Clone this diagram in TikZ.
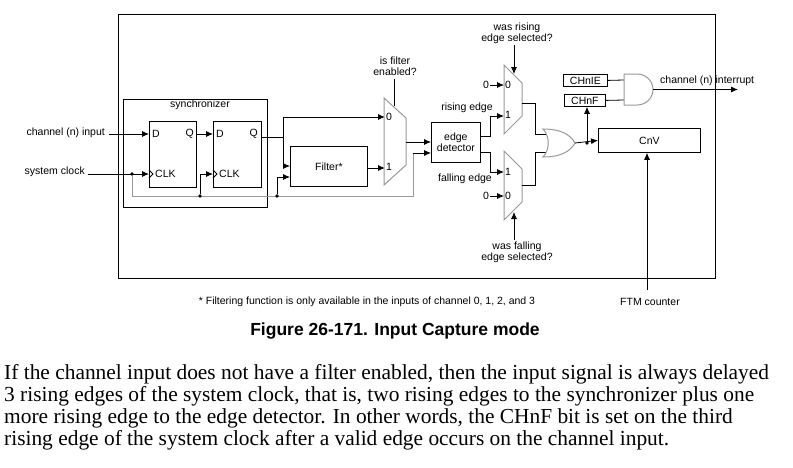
\documentclass[tikz,border=0pt]{standalone}
\usepackage{fontspec}
\setmainfont{Liberation Sans}
\newfontfamily\bodyserif{Liberation Serif}
\usetikzlibrary{arrows.meta}
\begin{document}
\begin{tikzpicture}[x=1pt,y=-1pt,
  lbl/.style={font=\fontsize{10.5}{11}\selectfont, inner sep=0pt},
  box/.style={draw, line width=0.8pt, inner sep=0pt, font=\fontsize{10.5}{11}\selectfont},
  ar/.style={-{Latex[length=7pt,width=6pt]}, line width=0.8pt},
  ln/.style={line width=0.8pt},
  gr/.style={draw=gray!80, line width=1pt},
  dot/.style={circle, fill, inner sep=1.3pt}]
\useasboundingbox (0,0) rectangle (793,467);
% outer
\draw[ln] (118,14) rectangle (715,278);
% synchronizer
\node[box, minimum width=144pt, minimum height=108pt, anchor=north west] (sync) at (123,99) {};
\node[lbl] (synct) at (200,105) {synchronizer};
\node[box, minimum width=47pt, minimum height=66pt, anchor=north west] (ff1) at (149,121) {};
\node[box, minimum width=48pt, minimum height=66pt, anchor=north west] (ff2) at (213,121) {};
\foreach \f/\x in {ff1/149, ff2/213}{
  \node[lbl, anchor=west] at (\x+3,134) {D};
  \node[lbl, anchor=east] at (\x+45,134) {Q};
  \node[lbl, anchor=west] at (\x+6,174) {CLK};
  \draw[ln] (\x,170) -- (\x+4,174) -- (\x,178);
}
\node[lbl, anchor=east] (chin) at (105,133) {channel (n) input};
\node[lbl, anchor=east] (sclk) at (85,172) {system clock};
\coordinate (ffd1) at (149,134);
\coordinate (ffc1) at (149,174);
\draw[ar] (109,134) -- (ffd1);
\draw[ar] (88,174) -- (ffc1);
\node[dot] (d1) at (132,174) {};
\draw[ar] (196,134) -- (213,134);
% gray clock bus
\draw[gr] (d1) -- (132,196) -- (413,196) -- (413,153);
\draw[ar] (413,153) -- (431,153);
\node[dot] (d2) at (200,196) {};
\node[dot] (d3) at (277,196) {};
\draw[ar] (d2) -- (200,174) -- (213,174);
\draw[ar] (d3) -- (277,177) -- (290,177);
% Q2 to mux and filter
\node[box, minimum width=77pt, minimum height=40pt, anchor=north west] (filt) at (290,146) {Filter*};
\draw[ln] (261,137) -- (283,137);
\draw[ar] (283,137) -- (283,117) -- (385,117);
\draw[ar] (283,137) -- (283,166) -- (290,166);
\draw[ar] (filt.east |- 0,168) -- (385,168);
% mux1
\draw[gr, fill=white] (384,98) -- (406,118) -- (406,165) -- (384,185) -- cycle;
\node[lbl, anchor=west] at (386,117) {0};
\node[lbl, anchor=west] at (386,167) {1};
\node[lbl, align=center] (fen) at (395,66) {is filter\\enabled?};
\draw[ln] (394,79) -- (394,106);
% edge detector
\node[box, minimum width=49pt, minimum height=40pt, anchor=north west, align=center] (ed) at (431,122) {edge\\detector};
\draw[ar] (406,142) -- (431,142);
\draw[ar] (480,136) -- (490,136) -- (490,116) -- (504,116);
\draw[ar] (480,152) -- (490,152) -- (490,172) -- (504,172);
\node[lbl] at (467,108) {rising edge};
\node[lbl] at (465,179) {falling edge};
% mux2
\draw[gr, fill=white] (504,65) -- (522,83) -- (522,116) -- (504,134) -- cycle;
\node[lbl, anchor=west] at (505,85) {0};
\node[lbl, anchor=west] at (505,115) {1};
\node[lbl] at (486,85) {0};
\draw[ar] (490,85) -- (504,85);
\node[lbl, align=center] (wrs) at (517,33) {was rising\\edge selected?};
\draw[ar] (514,45) -- (514,74);
% mux3
\draw[gr, fill=white] (504,151) -- (522,169) -- (522,202) -- (504,220) -- cycle;
\node[lbl, anchor=west] at (505,172) {1};
\node[lbl, anchor=west] at (505,196) {0};
\node[lbl] at (486,196) {0};
\draw[ar] (490,196) -- (504,196);
\node[lbl, align=center] (wfs) at (517,252) {was falling\\edge selected?};
\draw[ar] (514,240) -- (514,212);
% OR gate
\draw[ln] (522,103) -- (535,103) -- (535,134) -- (546,134);
\draw[ln] (522,185) -- (535,185) -- (535,152) -- (546,152);
\draw[gr, fill=white] (543,129) .. controls (550,136) and (550,150) .. (543,157)
   .. controls (560,157) and (570,152) .. (575,143)
   .. controls (570,134) and (560,129) .. cycle;
\node[box, minimum width=102pt, minimum height=24pt, anchor=north west] (cnv) at (598,128) {CnV};
\draw[ar] (575,143) -- (cnv.west);
\node[dot] (d4) at (587,143) {};
\node[box, minimum width=44pt, minimum height=12pt, anchor=north west] (chnie) at (563,74) {CHnIE};
\node[box, minimum width=41pt, minimum height=12pt, anchor=north west] (chnf) at (564,94) {CHnF};
\draw[ar] (d4) -- (chnf.south -| d4);
% AND gate
\draw[ln] (chnie.east) -- (624,80);
\draw[ln] (chnf.east) -- (624,100);
\draw[gr, fill=white] (624,74) -- (637,74) .. controls (646,74) and (653,81) .. (653,89.5)
   .. controls (653,98) and (646,105) .. (637,105) -- (624,105) -- cycle;
\draw[ar] (653,89.5) -- (738,89.5);
\node[lbl, anchor=west] at (660,81) {channel (n) interrupt};
% FTM counter
\node[lbl] (ftm) at (650,302) {FTM counter};
\draw[ar] (647,290) -- (cnv.south -| 647,0);
\node[lbl] at (367,302) {* Filtering function is only available in the inputs of channel 0, 1, 2, and 3};
% caption
\node[inner sep=0pt, font=\fontsize{17.5}{20}\selectfont\bfseries] at (395,331) {Figure 26-171. Input Capture mode};
\foreach \t [count=\i] in {
 {If the channel input does not have a filter enabled, then the input signal is always delayed},
 {3 rising edges of the system clock, that is, two rising edges to the synchronizer plus one},
 {more rising edge to the edge detector. In other words, the CHnF bit is set on the third},
 {rising edge of the system clock after a valid edge occurs on the channel input.}}
 \node[anchor=base west, inner sep=0pt, font=\bodyserif\fontsize{21.4}{22}\selectfont] at (4,357+22*\i) {\t};
\end{tikzpicture}
\end{document}
